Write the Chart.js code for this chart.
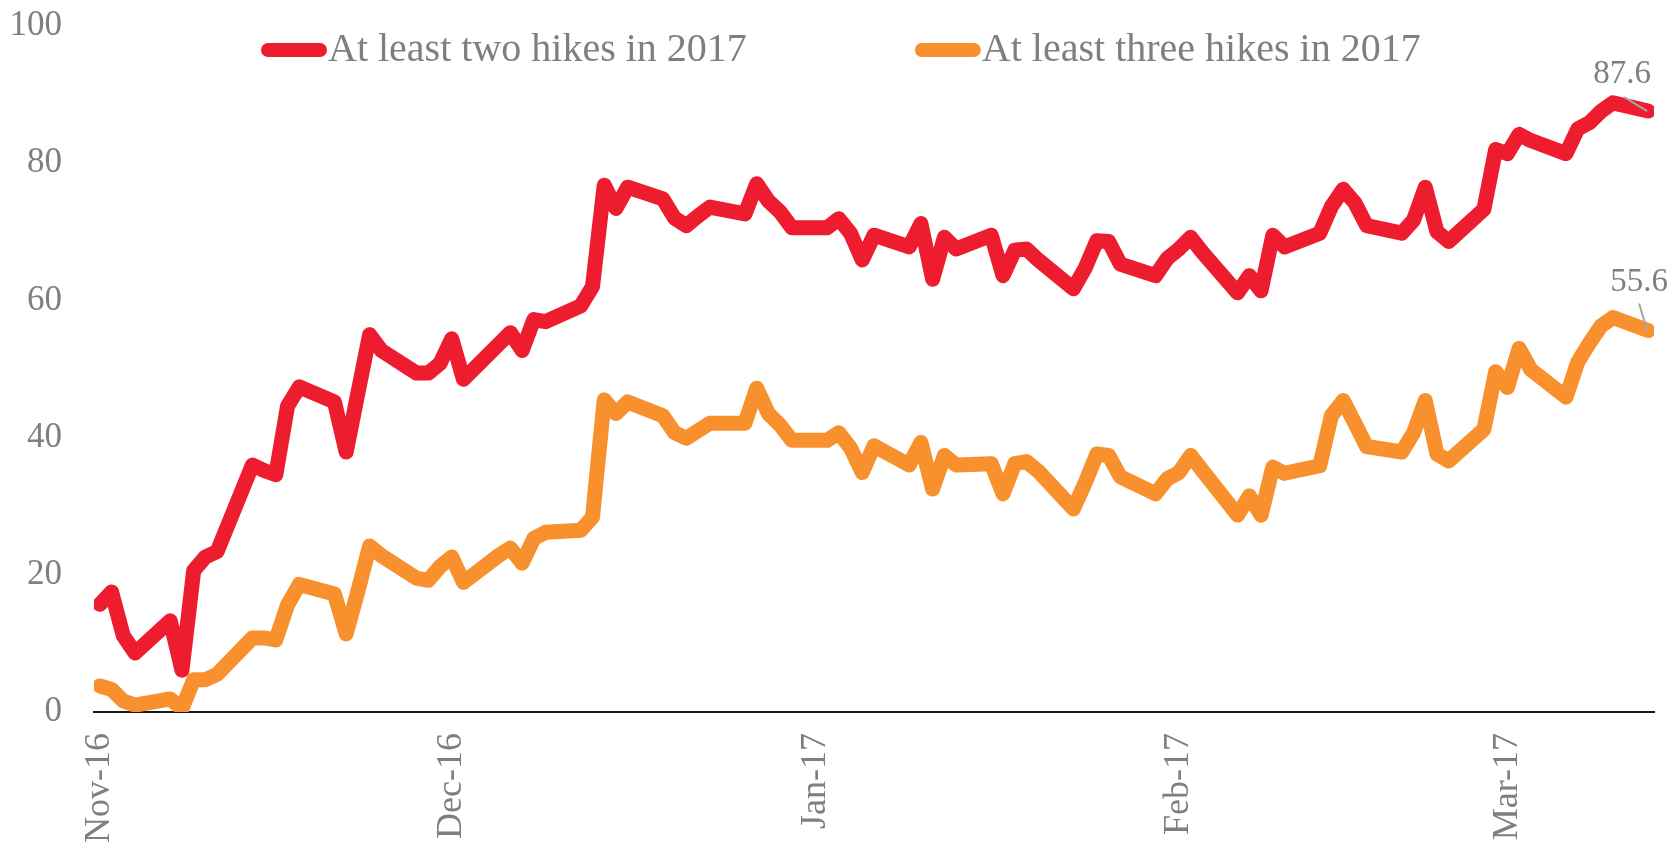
<!DOCTYPE html>
<html lang="en">
<head>
  <meta charset="UTF-8" />
  <title>Rate hike probabilities for 2017</title>
  <script src="https://cdn.jsdelivr.net/npm/chart.js"></script>
  <style>
    html, body { margin: 0; padding: 0; background: #ffffff; }
    #wrap { width: 1675px; height: 846px; }
  </style>
</head>
<body>

<div id="wrap"><canvas id="hikeChart" width="1675" height="846"></canvas></div>

<script>
  // daily observations (business days)
  const dates = [
    "2016-11-01", "2016-11-02", "2016-11-03", "2016-11-04", "2016-11-07", "2016-11-08", "2016-11-09", "2016-11-10", "2016-11-11",
    "2016-11-14", "2016-11-15", "2016-11-16", "2016-11-17", "2016-11-18", "2016-11-21", "2016-11-22", "2016-11-23", "2016-11-24",
    "2016-11-25", "2016-11-28", "2016-11-29", "2016-11-30",
    "2016-12-01", "2016-12-02", "2016-12-05", "2016-12-06", "2016-12-07", "2016-12-08", "2016-12-09", "2016-12-12", "2016-12-13",
    "2016-12-14", "2016-12-15", "2016-12-16", "2016-12-19", "2016-12-20", "2016-12-21", "2016-12-22", "2016-12-23", "2016-12-26",
    "2016-12-27", "2016-12-28", "2016-12-29", "2016-12-30",
    "2017-01-02", "2017-01-03", "2017-01-04", "2017-01-05", "2017-01-06", "2017-01-09", "2017-01-10", "2017-01-11", "2017-01-12",
    "2017-01-13", "2017-01-16", "2017-01-17", "2017-01-18", "2017-01-19", "2017-01-20", "2017-01-23", "2017-01-24", "2017-01-25",
    "2017-01-26", "2017-01-27", "2017-01-30", "2017-01-31",
    "2017-02-01", "2017-02-02", "2017-02-03", "2017-02-06", "2017-02-07", "2017-02-08", "2017-02-09", "2017-02-10", "2017-02-13",
    "2017-02-14", "2017-02-15", "2017-02-16", "2017-02-17", "2017-02-20", "2017-02-21", "2017-02-22", "2017-02-23", "2017-02-24",
    "2017-02-27", "2017-02-28",
    "2017-03-01", "2017-03-02", "2017-03-03", "2017-03-06", "2017-03-07", "2017-03-08", "2017-03-09", "2017-03-10", "2017-03-13"
  ];

  const twoHikes = [
    15.7, 17.5, 11.1, 8.6, 13.3, 6.1, 20.6, 22.6, 23.4,
    36.0, 35.2, 34.6, 44.6, 47.4, 45.2, 37.9, 46.5, 55.0,
    52.7, 49.4, 49.4, 50.8,
    54.4, 48.5, 53.6, 55.3, 52.7, 57.2, 56.9, 59.2, 62.0,
    76.8, 73.4, 76.5, 74.8, 72.0, 70.9, 72.3, 73.6, 72.6,
    77.0, 74.5, 72.9, 70.6,
    70.6, 71.9, 69.8, 65.9, 69.5, 67.8, 71.2, 63.1, 69.2,
    67.5, 69.5, 63.6, 67.3, 67.5, 65.9, 61.7, 64.7, 68.7,
    68.6, 65.3, 63.6, 66.1,
    67.5, 69.2, 67.0, 61.1, 63.6, 61.4, 69.5, 67.8, 69.8,
    73.7, 76.2, 74.2, 70.9, 69.8, 71.7, 76.5, 70.0, 68.6,
    73.3, 82.0,
    81.4, 84.2, 83.3, 81.4, 85.0, 85.9, 87.6, 88.8, 87.6
  ];

  const threeHikes = [
    3.8, 3.3, 1.6, 1.0, 1.9, 0.5, 4.7, 4.7, 5.5,
    10.8, 10.8, 10.5, 15.6, 18.6, 17.2, 11.4, 17.6, 24.2,
    22.8, 19.5, 19.2, 21.2,
    22.6, 18.9, 22.8, 23.9, 21.7, 25.3, 26.2, 26.5, 28.4,
    45.5, 43.5, 45.2, 43.2, 40.7, 39.9, 41.0, 42.1, 42.1,
    47.2, 43.5, 41.8, 39.6,
    39.6, 40.7, 38.5, 34.9, 38.8, 36.0, 39.3, 32.5, 37.4,
    36.0, 36.2, 31.8, 36.2, 36.5, 35.1, 29.6, 33.4, 37.6,
    37.4, 34.3, 31.8, 34.0,
    34.9, 37.4, 35.2, 28.7, 31.5, 28.7, 35.7, 34.8, 35.9,
    43.2, 45.4, 42.1, 38.7, 37.9, 40.7, 45.4, 37.6, 36.6,
    41.2, 49.6,
    47.3, 53.0, 49.9, 45.9, 51.0, 53.8, 56.3, 57.5, 55.6
  ];

  const tickDates = ["2016-11-01", "2016-12-01", "2017-01-01", "2017-02-01", "2017-03-01"];
  const tickLabels = ["Nov-16", "Dec-16", "Jan-17", "Feb-17", "Mar-17"];

  const seriesNames = ["At least two hikes in 2017", "At least three hikes in 2017"];

  // days counted from the first observation
  const t0 = Date.UTC(2016, 10, 1);
  function dayNum(s) {
    const p = s.split("-");
    return (Date.UTC(+p[0], +p[1] - 1, +p[2]) - t0) / 86400000;
  }
  const days = dates.map(dayNum);
  const tickDays = tickDates.map(dayNum);

  const gray = "#7f7f7f";
  const serif = "'Liberation Serif', 'DejaVu Serif', serif";

  // legend drawn as thick line samples with text right after them
  const lineLegend = {
    id: "lineLegend",
    afterDraw(chart, args, opts) {
      const ctx = chart.ctx;
      const area = chart.chartArea;
      let x = area.left + opts.offsetX;
      const y = area.top + opts.offsetY;
      ctx.save();
      ctx.font = opts.font;
      ctx.textBaseline = "middle";
      ctx.textAlign = "left";
      chart.data.datasets.forEach(ds => {
        ctx.strokeStyle = ds.borderColor;
        ctx.lineWidth = opts.lineWidth;
        ctx.lineCap = "round";
        ctx.beginPath();
        ctx.moveTo(x, y);
        ctx.lineTo(x + opts.lineLength, y);
        ctx.stroke();
        x += opts.lineLength + opts.textGap;
        ctx.fillStyle = opts.color;
        ctx.fillText(ds.label, x, y);
        x += ctx.measureText(ds.label).width + opts.itemGap;
      });
      ctx.restore();
    }
  };

  // value label on the last point of each series, with a small leader line
  const endLabels = {
    id: "endLabels",
    afterDatasetsDraw(chart, args, opts) {
      const ctx = chart.ctx;
      ctx.save();
      ctx.font = opts.font;
      ctx.textAlign = "center";
      ctx.textBaseline = "alphabetic";
      chart.data.datasets.forEach((ds, i) => {
        const meta = chart.getDatasetMeta(i);
        const pt = meta.data[meta.data.length - 1];
        const o = opts.offsets[i];
        ctx.strokeStyle = opts.leaderColor;
        ctx.lineWidth = 2;
        ctx.beginPath();
        ctx.moveTo(pt.x + o.lx, pt.y + o.ly);
        ctx.lineTo(pt.x - 1, pt.y);
        ctx.stroke();
        ctx.fillStyle = opts.color;
        ctx.fillText(ds.data[ds.data.length - 1].y.toFixed(1), pt.x + o.tx, pt.y + o.ty);
      });
      ctx.restore();
    }
  };

  function series(name, values, color) {
    return {
      label: name,
      data: days.map((d, i) => ({ x: d, y: values[i] })),
      borderColor: color,
      backgroundColor: color,
      borderWidth: 15,
      borderJoinStyle: "round",
      borderCapStyle: "round",
      tension: 0,
      pointRadius: 0,
      fill: false
    };
  }

  new Chart(document.getElementById("hikeChart"), {
    type: "line",
    data: {
      datasets: [
        series(seriesNames[0], twoHikes, "#ED1C2E"),
        series(seriesNames[1], threeHikes, "#F7902D")
      ]
    },
    plugins: [lineLegend, endLabels],
    options: {
      responsive: false,
      animation: false,
      layout: { padding: { left: 10, right: 21, top: 26, bottom: 3 } },
      plugins: {
        legend: { display: false },
        tooltip: { enabled: false },
        lineLegend: {
          offsetX: 174, offsetY: 24, lineLength: 52, lineWidth: 14, textGap: 8, itemGap: 175,
          font: "40px " + serif, color: gray
        },
        endLabels: {
          font: "33px " + serif, color: gray, leaderColor: "#a6a6a6",
          offsets: [
            { tx: -26, ty: -28, lx: -24, ly: -14 },
            { tx: -9, ty: -40, lx: -9, ly: -27 }
          ]
        }
      },
      scales: {
        x: {
          type: "linear",
          min: -0.5,
          max: 132.5,
          grid: { display: false, drawTicks: false },
          border: { display: true, color: "#1a1a1a", width: 2 },
          afterBuildTicks: axis => { axis.ticks = tickDays.map(v => ({ value: v })); },
          afterFit: axis => { axis.paddingLeft = 0; axis.paddingRight = 0; axis.height = 131; },
          ticks: {
            autoSkip: false,
            maxRotation: 90,
            minRotation: 90,
            padding: 21,
            color: gray,
            font: { family: serif, size: 36 },
            callback: (v, i) => tickLabels[i]
          }
        },
        y: {
          min: 0,
          max: 100,
          grid: { display: false, drawTicks: false },
          border: { display: false },
          afterFit: axis => { axis.paddingTop = 0; axis.paddingBottom = 0; axis.width = 84; },
          ticks: {
            stepSize: 20,
            padding: 32,
            color: gray,
            font: { family: serif, size: 35 }
          }
        }
      }
    }
  });
</script>

</body>
</html>
